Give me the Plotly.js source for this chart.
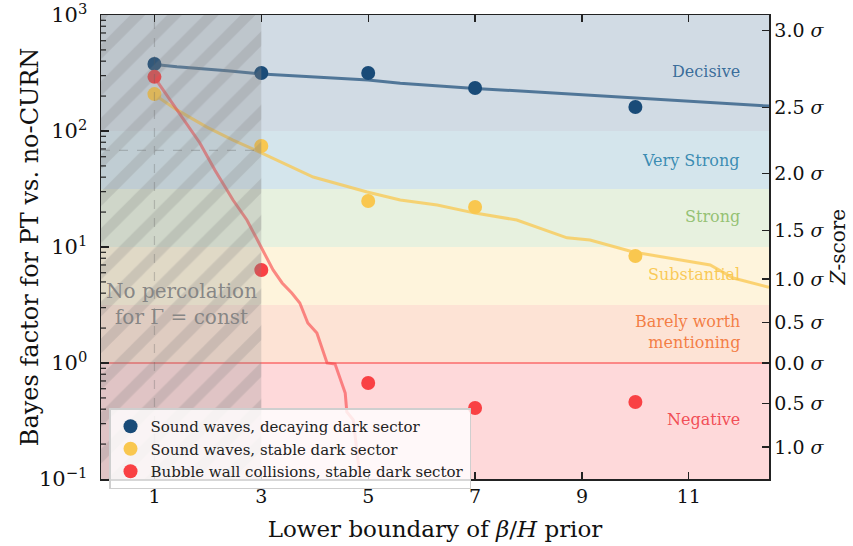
<!DOCTYPE html>
<html>
<head>
<meta charset="utf-8">
<script src="https://cdn.plot.ly/plotly-3.0.1.min.js"></script>
<style>html,body{margin:0;padding:0;background:#fff;}#chart{width:853px;height:546px;}</style>
</head>
<body>
<div id="chart"></div>
<script>
// ---- data ----
const priorLower = [1, 3, 5, 7, 10];
const bfDecaying = [378, 316, 316, 235, 161];
const bfStable = [208, 74.3, 24.9, 22.1, 8.36];
const bfBubble = [293, 6.34, 0.673, 0.409, 0.461];

const fitDecayingX = [1.01, 1.42, 2.36, 3.01, 5.0, 5.6, 7.0, 9.99, 12.5];
const fitDecayingY = [375, 358, 331, 310, 275, 258, 233, 194, 164];

const fitStableX = [1.01, 1.42, 1.98, 2.47, 3.01, 3.97, 4.98, 5.60, 6.29, 7.00, 7.78, 8.72, 9.15, 9.96, 11.40, 11.83, 12.5];
const fitStableY = [204, 152, 108, 83.5, 64.6, 40.1, 29.8, 25.4, 23.0, 19.6, 17.1, 12.0, 11.5, 9.05, 7.0, 5.4, 4.5];

const fitBubbleX = [1.01, 1.29, 1.85, 2.13, 2.47, 2.73, 2.92, 3.03, 3.22, 3.39, 3.57, 3.72, 3.87, 4.04, 4.23, 4.38, 4.47, 4.57, 4.60, 4.72, 4.85, 4.9];
const fitBubbleY = [286, 185, 78.9, 46.1, 25.4, 17.1, 11.5, 9.42, 6.34, 4.90, 4.01, 3.29, 2.21, 1.81, 1.0, 0.98, 0.757, 0.551, 0.378, 0.323, 0.1, 0.05];

const seriesNames = ['Sound waves, decaying dark sector', 'Sound waves, stable dark sector', 'Bubble wall collisions, stable dark sector'];

// Jeffreys scale bands
const bandEdges = [0.1, 1, 3.1623, 10, 31.623, 100, 1000];
const bandNames = ['Negative', 'Barely worth<br>mentioning', 'Substantial', 'Strong', 'Very Strong', 'Decisive'];
const bandLabelY = [0.323, 1.85, 5.74, 18.2, 56, 323];

// Z-score ticks (Bayes factor equivalent)
const zTickVals = [0.18857, 0.44621, 1, 2.2411, 5.303, 13.968, 42.956, 160.04, 739.8];
const zTickText = ['1.0', '0.5', '0.0', '0.5', '1.0', '1.5', '2.0', '2.5', '3.0'];

const xTickVals = [1, 3, 5, 7, 9, 11];
const yTickVals = [0.1, 1, 10, 100, 1000];
const yTickText = ['10<sup>−1</sup>', '10<sup>0</sup>', '10<sup>1</sup>', '10<sup>2</sup>', '10<sup>3</sup>'];
const yMinorTickVals = [0.2, 0.3, 0.4, 0.5, 0.6, 0.7, 0.8, 0.9, 2, 3, 4, 5, 6, 7, 8, 9, 20, 30, 40, 50, 60, 70, 80, 90, 200, 300, 400, 500, 600, 700, 800, 900];

const noPercolationRange = [0, 3];

// ---- styles ----
const cBlue = '#194b78', cYellow = '#f9c74f', cRed = '#f94144';
const bandColors = ['rgba(249,65,68,0.2)', 'rgba(243,114,44,0.2)', 'rgba(249,199,79,0.2)', 'rgba(144,190,109,0.22)', 'rgba(39,125,161,0.2)', 'rgba(25,75,120,0.2)'];
const labelColors = ['rgba(240,60,70,0.9)', 'rgba(243,120,60,0.95)', 'rgba(249,199,79,0.95)', 'rgba(144,190,109,0.95)', 'rgba(50,135,175,0.95)', 'rgba(40,95,145,0.9)'];
const FONT = 'DejaVu Serif, serif';
const PLOT_W = 853 - 101 - 84;

const traces = [
  {x: fitDecayingX, y: fitDecayingY, mode: 'lines', line: {color: 'rgba(25,75,120,0.7)', width: 3}, showlegend: false, hoverinfo: 'skip'},
  {x: fitStableX, y: fitStableY, mode: 'lines', line: {color: 'rgba(249,199,79,0.75)', width: 3}, showlegend: false, hoverinfo: 'skip'},
  {x: fitBubbleX, y: fitBubbleY, mode: 'lines', line: {color: 'rgba(249,65,68,0.6)', width: 3}, showlegend: false, hoverinfo: 'skip'},
  {x: priorLower, y: bfDecaying, mode: 'markers', name: seriesNames[0], marker: {color: cBlue, size: 14}},
  {x: priorLower, y: bfStable, mode: 'markers', name: seriesNames[1], marker: {color: cYellow, size: 14}},
  {x: priorLower, y: bfBubble, mode: 'markers', name: seriesNames[2], marker: {color: cRed, size: 14}},
  {
    x: [noPercolationRange[0], noPercolationRange[1], noPercolationRange[1], noPercolationRange[0], noPercolationRange[0]],
    y: [bandEdges[0], bandEdges[0], bandEdges[6], bandEdges[6], bandEdges[0]],
    mode: 'lines', fill: 'toself', line: {width: 0},
    fillcolor: 'rgba(128,128,128,0.24)',
    fillpattern: {shape: '/', size: 26, solidity: 0.4, bgcolor: 'rgba(128,128,128,0.24)', fgcolor: 'rgb(128,128,128)', fgopacity: 0.22},
    showlegend: false, hoverinfo: 'skip'
  },
  {x: [0], y: [1], yaxis: 'y2', mode: 'markers', marker: {opacity: 0}, showlegend: false, hoverinfo: 'skip'}
];

const shapes = [];
for (let i = 0; i < bandNames.length; i++) {
  shapes.push({type: 'rect', xref: 'paper', x0: 0, x1: 1, yref: 'y', y0: bandEdges[i], y1: bandEdges[i + 1], fillcolor: bandColors[i], line: {width: 0}, layer: 'below'});
}
shapes.push({type: 'line', xref: 'paper', x0: 0, x1: 1, yref: 'y', y0: 1, y1: 1, line: {color: 'rgba(249,65,68,0.55)', width: 2}, layer: 'below'});
shapes.push({type: 'line', xref: 'x', x0: 1, x1: 1, yref: 'y', y0: bandEdges[0], y1: bandEdges[6], line: {color: 'rgba(90,90,90,0.28)', width: 1.2, dash: 'dash'}, layer: 'above'});
shapes.push({type: 'line', xref: 'x', x0: noPercolationRange[0], x1: noPercolationRange[1], yref: 'y', y0: 68, y1: 68, line: {color: 'rgba(90,90,90,0.28)', width: 1.2, dash: 'dash'}, layer: 'above'});
// minor log ticks on the left spine
yMinorTickVals.forEach(v => {
  shapes.push({type: 'line', xref: 'paper', x0: 0, x1: 5 / PLOT_W, yref: 'y', y0: v, y1: v, line: {color: '#222', width: 1.2}, layer: 'above'});
});

const annotations = bandNames.map((n, i) => ({
  x: 12.0, y: Math.log10(bandLabelY[i]), xref: 'x', yref: 'y', text: n, showarrow: false,
  xanchor: 'right', yanchor: 'middle', align: 'right',
  font: {family: FONT, size: 16, color: labelColors[i]}
}));
annotations.push({
  x: 1.5, y: Math.log10(3.23), xref: 'x', yref: 'y', text: 'No percolation<br>for Γ = const', showarrow: false,
  xanchor: 'center', yanchor: 'middle', align: 'center',
  font: {family: FONT, size: 20, color: 'rgba(130,130,130,0.95)'}
});
// axis titles placed as rotated annotations
annotations.push({
  x: -0.106, y: 0.5, xref: 'paper', yref: 'paper', text: 'Bayes factor for PT vs. no-CURN', showarrow: false,
  textangle: -90, xanchor: 'center', yanchor: 'middle',
  font: {family: FONT, size: 24, color: '#111'}
});
annotations.push({
  x: 1.104, y: 0.5, xref: 'paper', yref: 'paper', text: '<i>Z</i>-score', showarrow: false,
  textangle: -90, xanchor: 'center', yanchor: 'middle',
  font: {family: FONT, size: 20, color: '#111'}
});

const layout = {
  width: 853, height: 546,
  margin: {l: 101, r: 84, t: 15, b: 67},
  paper_bgcolor: '#fff', plot_bgcolor: '#fff',
  font: {family: FONT, color: '#111'},
  showlegend: true,
  legend: {x: 0.012, y: 0.152, xanchor: 'left', yanchor: 'top', bgcolor: 'rgba(255,255,255,0.82)', bordercolor: '#cfcfcf', borderwidth: 1.5, font: {family: FONT, size: 15, color: '#222'}, tracegroupgap: 0, itemwidth: 30},
  xaxis: {
    range: [0, 12.5], tickvals: xTickVals, ticks: 'inside', ticklen: 7, tickwidth: 1.2, tickcolor: '#222',
    showline: true, linecolor: '#222', linewidth: 1.5, mirror: 'ticks', showgrid: false, zeroline: false,
    tickfont: {family: FONT, size: 19, color: '#111'},
    title: {text: 'Lower boundary of <i>β</i>/<i>H</i> prior', font: {family: FONT, size: 23, color: '#111'}, standoff: 14}
  },
  yaxis: {
    type: 'log', range: [-1, 3], tickvals: yTickVals, ticktext: yTickText, ticks: 'inside', ticklen: 8, tickwidth: 1.2, tickcolor: '#222',
    showline: true, linecolor: '#222', linewidth: 1.5, mirror: false, showgrid: false, zeroline: false,
    ticklabelstandoff: 8, ticklabeloverflow: 'allow',
    tickfont: {family: FONT, size: 21, color: '#111'}
  },
  yaxis2: {
    type: 'log', range: [-1, 3], overlaying: 'y', side: 'right', tickvals: zTickVals,
    ticktext: zTickText.map(t => t + ' <i>σ</i>'),
    ticks: 'inside', ticklen: 7, tickwidth: 1.2, tickcolor: '#222',
    showline: true, linecolor: '#222', linewidth: 1.5, showgrid: false, zeroline: false,
    tickfont: {family: FONT, size: 19, color: '#111'}
  },
  shapes: shapes,
  annotations: annotations
};

Plotly.newPlot('chart', traces, layout, {displayModeBar: false, staticPlot: true});
</script>
</body>
</html>
